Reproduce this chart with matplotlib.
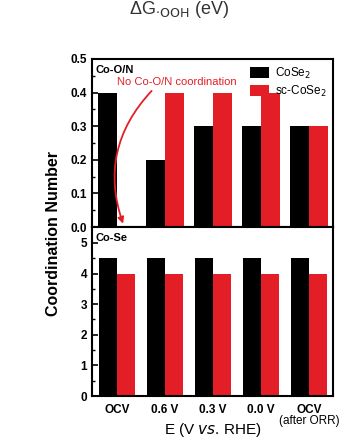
import matplotlib
matplotlib.use("Agg")
import matplotlib.pyplot as plt
import numpy as np

plt.rcParams['font.family'] = ['Liberation Sans', 'DejaVu Sans']

potentials = ["OCV", "0.6 V", "0.3 V", "0.0 V", "OCV\n(after ORR)"]
series = ["CoSe$_2$", "sc-CoSe$_2$"]
con_cose2 = [0.4, 0.2, 0.3, 0.3, 0.3]
con_sc = [0.0, 0.4, 0.4, 0.4, 0.3]
cse_cose2 = [4.5, 4.5, 4.5, 4.5, 4.5]
cse_sc = [4.0, 4.0, 4.0, 4.0, 4.0]

black = '#000000'
red = '#e41e26'
x = np.arange(len(potentials))

fig = plt.figure(figsize=(3.57, 4.4), dpi=100)
ax1 = fig.add_axes([0.258, 0.484, 0.675, 0.382])
ax2 = fig.add_axes([0.258, 0.100, 0.675, 0.384])

w1 = 0.4
ax1.bar(x - w1 / 2, con_cose2, w1, color=black, label=series[0])
ax1.bar(x + w1 / 2, con_sc, w1, color=red, label=series[1])
w2 = 0.37
ax2.bar(x - w2 / 2, cse_cose2, w2, color=black)
ax2.bar(x + w2 / 2, cse_sc, w2, color=red)

for ax in (ax1, ax2):
    ax.set_xlim(-0.52, 4.5)
    for s in ax.spines.values():
        s.set_linewidth(1.5)
    ax.tick_params(axis='y', direction='in', width=1.2, length=4, labelsize=8.5)
    ax.tick_params(axis='y', which='minor', direction='in', width=1.0, length=2)
    ax.tick_params(axis='x', length=0)

ax1.set_ylim(0, 0.5)
ax1.set_yticks(np.arange(0, 0.51, 0.1))
ax1.set_yticks(np.arange(0.05, 0.5, 0.1), minor=True)
ax1.set_yticklabels(["0.0", "0.1", "0.2", "0.3", "0.4", "0.5"], fontweight='bold')
ax1.set_xticks([])

ax2.set_ylim(0, 5.52)
ax2.set_yticks(range(6))
ax2.set_yticks(np.arange(0.5, 5.5, 1), minor=True)
ax2.set_yticklabels([str(i) for i in range(6)], fontweight='bold')
ax2.set_xticks(x)
ax2.set_xticklabels([p.split("\n")[0] for p in potentials], fontweight='bold', fontsize=8.5)
ax2.tick_params(axis='x', pad=6)
# second line of the last tick label is not bold
ax2.annotate(potentials[-1].split("\n")[1], xy=(x[-1], 0), xycoords=ax2.get_xaxis_transform(),
             xytext=(0, -14), textcoords='offset points', ha='center', va='top', fontsize=8.5)
ax2.set_xlabel("E (V $\\it{vs}$. RHE)", fontsize=11, labelpad=3)

ax1.text(0.015, 0.965, "Co-O/N", transform=ax1.transAxes, fontsize=8, fontweight='bold', va='top')
ax2.text(0.015, 0.965, "Co-Se", transform=ax2.transAxes, fontsize=8, fontweight='bold', va='top')

ax1.legend(loc='upper right', frameon=False, fontsize=8.5, handlelength=1.6,
           handleheight=1.0, handletextpad=0.5, labelspacing=0.25,
           borderaxespad=0.15)

ax1.text(0.0, 0.43, "No Co-O/N coordination", color=red, fontsize=8, va='center')
ax1.annotate("", xy=(0.125, 0.01), xytext=(0.72, 0.405),
             arrowprops=dict(arrowstyle='-|>', color=red, lw=1.3,
                             connectionstyle='arc3,rad=0.3', mutation_scale=9,
                             shrinkA=0, shrinkB=0))

fig.text(0.151, 0.47, "Coordination Number", rotation=90, fontsize=11.5,
         fontweight='bold', ha='center', va='center')
fig.text(0.5, 1.003, "\u0394G$_{\\cdot\\mathrm{OOH}}$ (eV)", fontsize=13, color='#333333',
         ha='center', va='top')

fig.savefig("out.png", dpi=100)
